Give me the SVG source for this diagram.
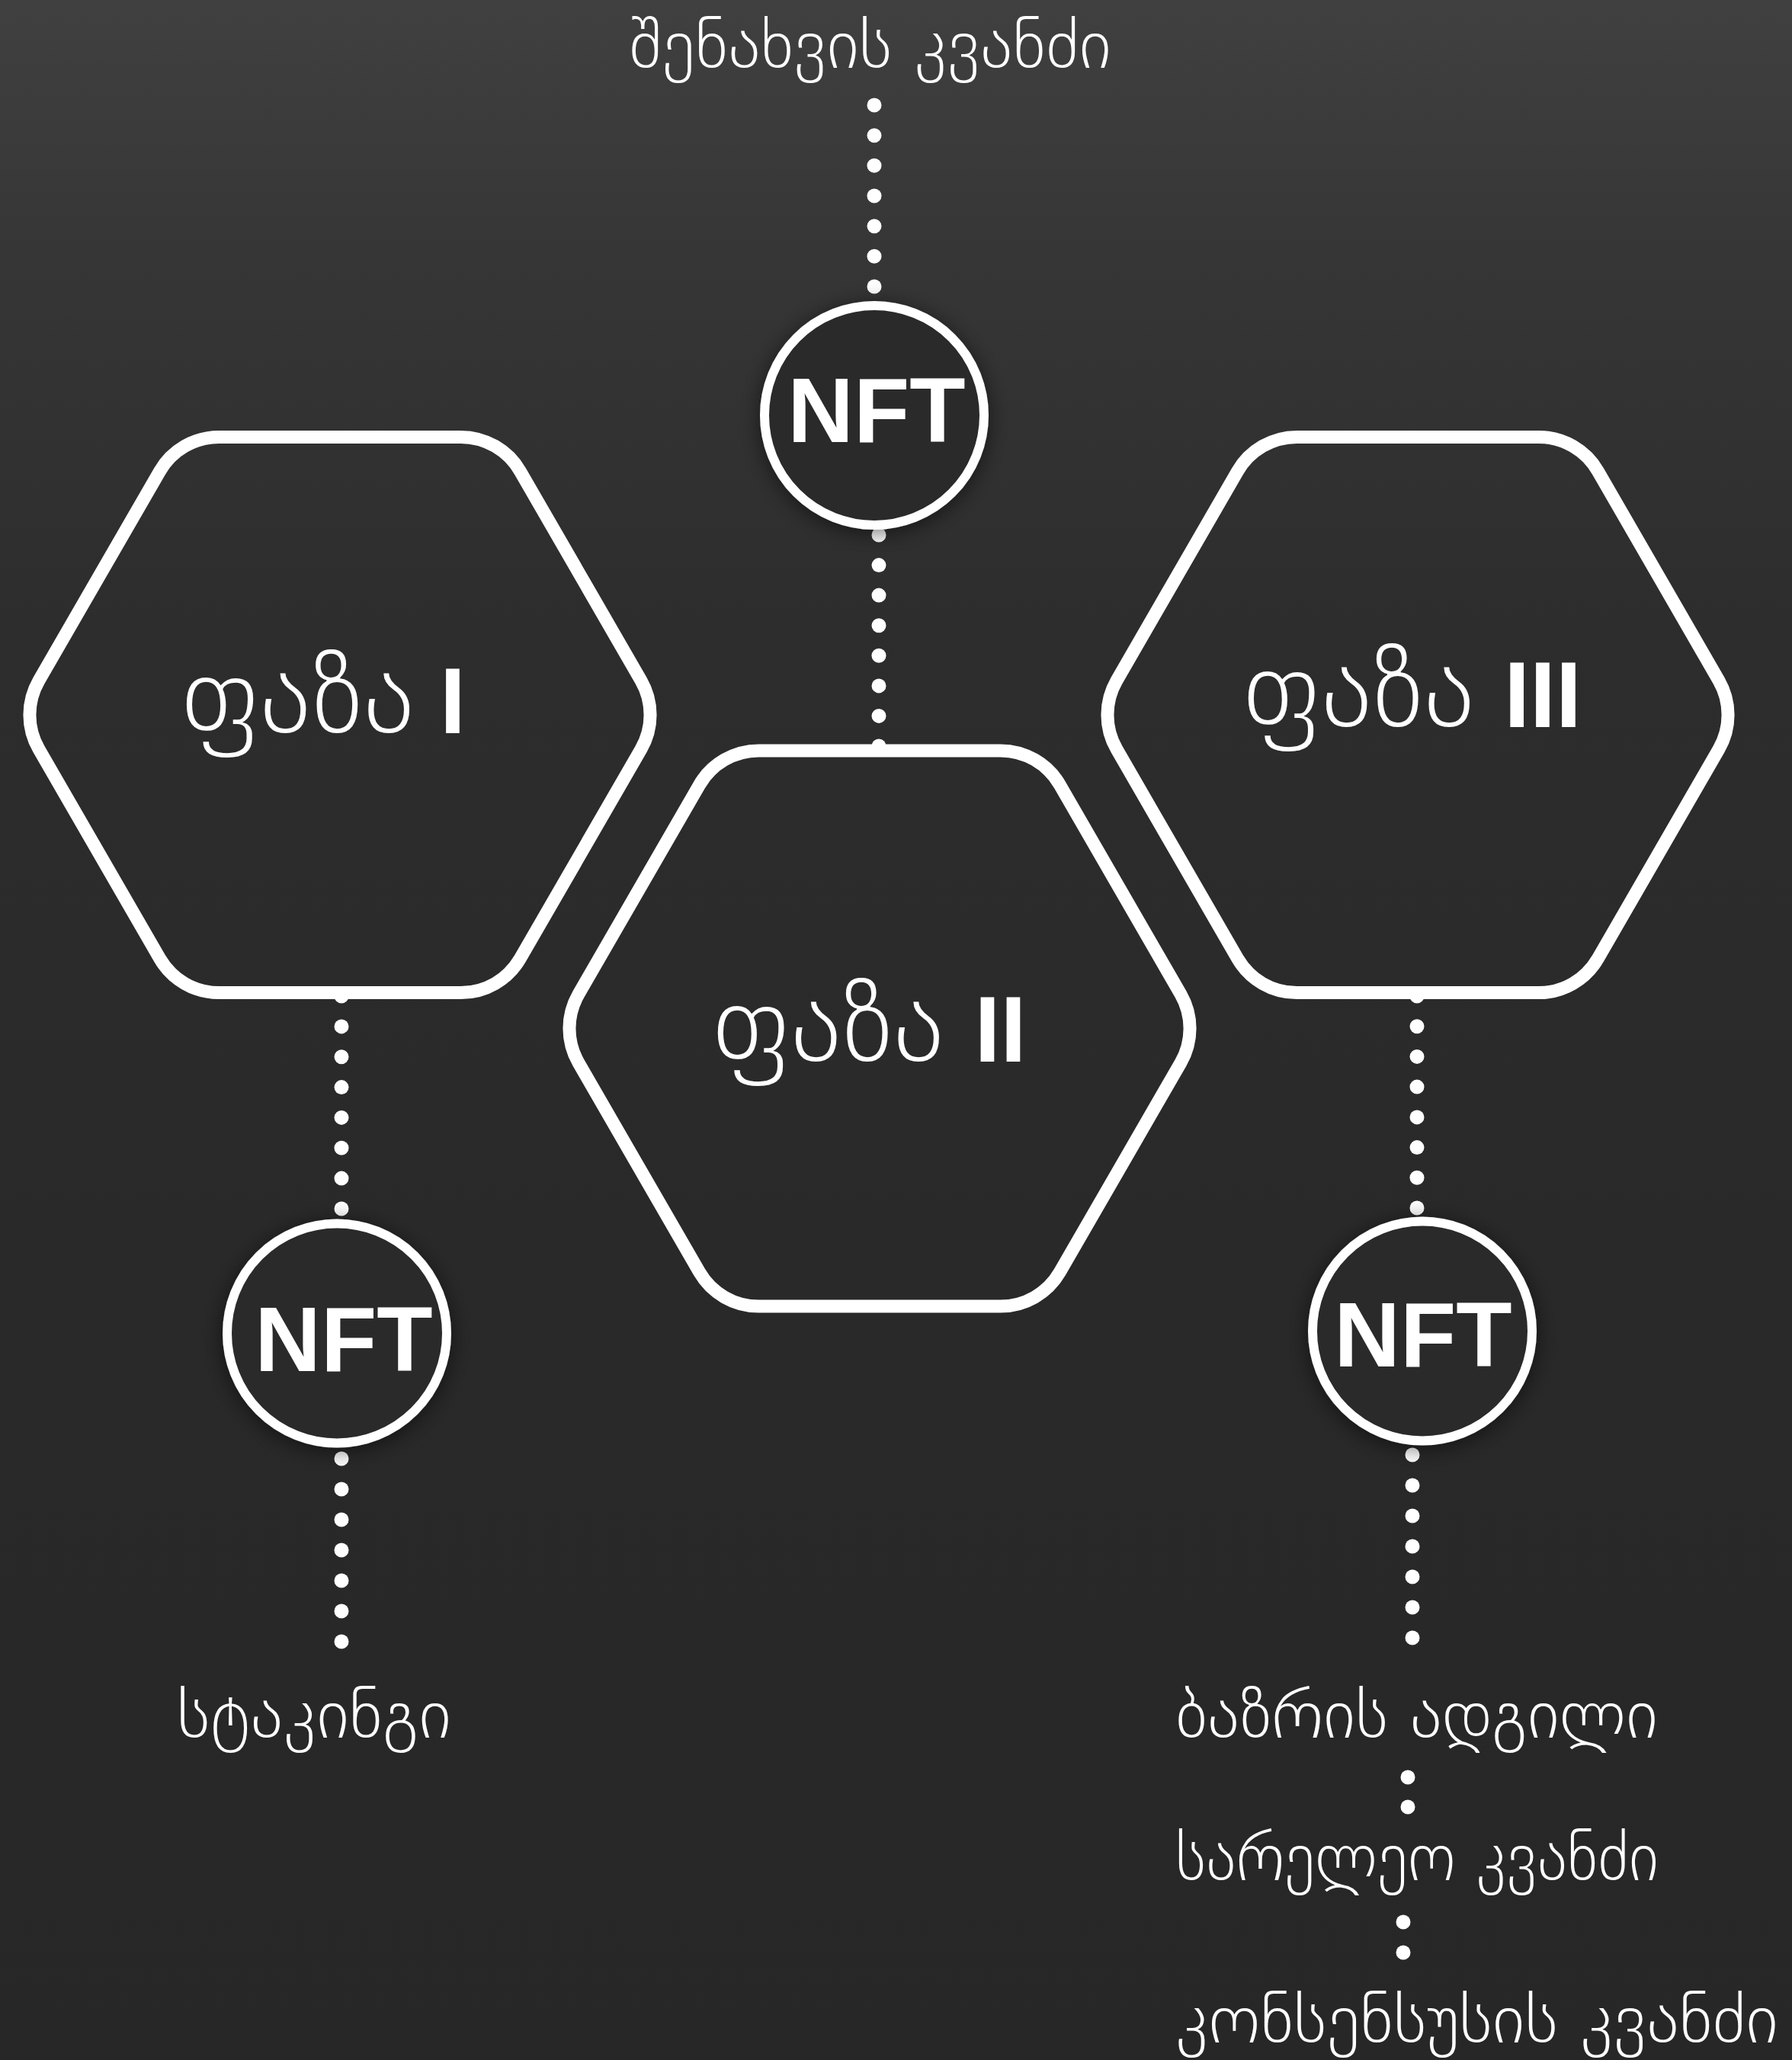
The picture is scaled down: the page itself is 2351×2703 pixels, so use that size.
<svg xmlns="http://www.w3.org/2000/svg" xmlns:xlink="http://www.w3.org/1999/xlink" width="2351" height="2703" viewBox="0 0 2351 2703">
  <defs>
    <linearGradient id="bg" x1="0" y1="0" x2="0" y2="1">
      <stop offset="0" stop-color="#404040"/>
      <stop offset="0.12" stop-color="#363636"/>
      <stop offset="0.3" stop-color="#2d2d2d"/>
      <stop offset="0.6" stop-color="#292929"/>
      <stop offset="1" stop-color="#272727"/>
    </linearGradient>
    <filter id="shadow" x="-30%" y="-30%" width="160%" height="160%">
      <feDropShadow dx="0" dy="4" stdDeviation="14" flood-color="#000" flood-opacity="0.55"/>
    </filter>
    <path id="hexshape" d="M -158.5,-364.6 H 158.5 A 90 90 0 0 1 236.5,-319.6 L 395,-45 A 90 90 0 0 1 395,45 L 236.5,319.6 A 90 90 0 0 1 158.5,364.6 H -158.5 A 90 90 0 0 1 -236.5,319.6 L -395,45 A 90 90 0 0 1 -395,-45 L -236.5,-319.6 A 90 90 0 0 1 -158.5,-364.6 Z"/>
  </defs>
  <style>
    .hex { fill: none; stroke: #ffffff; stroke-width: 17; }
    .ring { fill: #2b2b2b; stroke: #ffffff; stroke-width: 12; filter: url(#shadow); }
    .dots circle { fill: #ffffff; }
    .geo { font-family: "DejaVu Sans", sans-serif; font-weight: 200; fill: #ffffff; }
    .phase { font-size: 142px; }
    .label { font-size: 88px; }
    .num { font-family: "Liberation Sans", Arial, sans-serif; font-weight: 700; fill: #ffffff; font-size: 122px; }
    .nft { font-family: "Liberation Sans", Arial, sans-serif; font-weight: 700; fill: #ffffff; font-size: 120px; text-anchor: middle; }
  </style>

  <rect x="0" y="0" width="2351" height="2703" fill="url(#bg)"/>

  <g id="connectors">
    <g class="dots" id="conn-storage-nft">
      <circle cx="1147" cy="138" r="9.5"/><circle cx="1147" cy="177.7" r="9.5"/><circle cx="1147" cy="217.3" r="9.5"/><circle cx="1147" cy="257" r="9.5"/><circle cx="1147" cy="296.7" r="9.5"/><circle cx="1147" cy="336.3" r="9.5"/><circle cx="1147" cy="376" r="9.5"/>
    </g>
    <g class="dots" id="conn-nft-phase2">
      <circle cx="1153" cy="702" r="9.5"/><circle cx="1153" cy="741.6" r="9.5"/><circle cx="1153" cy="781.1" r="9.5"/><circle cx="1153" cy="820.7" r="9.5"/><circle cx="1153" cy="860.3" r="9.5"/><circle cx="1153" cy="899.9" r="9.5"/><circle cx="1153" cy="939.4" r="9.5"/><circle cx="1153" cy="979" r="9.5"/>
    </g>
    <g class="dots" id="conn-phase1-nft">
      <circle cx="448" cy="1307" r="9.5"/><circle cx="448" cy="1346.9" r="9.5"/><circle cx="448" cy="1386.7" r="9.5"/><circle cx="448" cy="1426.6" r="9.5"/><circle cx="448" cy="1466.4" r="9.5"/><circle cx="448" cy="1506.3" r="9.5"/><circle cx="448" cy="1546.1" r="9.5"/><circle cx="448" cy="1586" r="9.5"/>
    </g>
    <g class="dots" id="conn-nft-staking">
      <circle cx="448" cy="1914" r="9.5"/><circle cx="448" cy="1954" r="9.5"/><circle cx="448" cy="1994" r="9.5"/><circle cx="448" cy="2034" r="9.5"/><circle cx="448" cy="2074" r="9.5"/><circle cx="448" cy="2114" r="9.5"/><circle cx="448" cy="2154" r="9.5"/>
    </g>
    <g class="dots" id="conn-phase3-nft">
      <circle cx="1859" cy="1307" r="9.5"/><circle cx="1859" cy="1346.7" r="9.5"/><circle cx="1859" cy="1386.4" r="9.5"/><circle cx="1859" cy="1426.1" r="9.5"/><circle cx="1859" cy="1465.9" r="9.5"/><circle cx="1859" cy="1505.6" r="9.5"/><circle cx="1859" cy="1545.3" r="9.5"/><circle cx="1859" cy="1585" r="9.5"/>
    </g>
    <g class="dots" id="conn-nft-market">
      <circle cx="1853" cy="1909" r="9.5"/><circle cx="1853" cy="1949" r="9.5"/><circle cx="1853" cy="1989" r="9.5"/><circle cx="1853" cy="2029" r="9.5"/><circle cx="1853" cy="2069" r="9.5"/><circle cx="1853" cy="2109" r="9.5"/><circle cx="1853" cy="2149" r="9.5"/>
    </g>
    <g class="dots" id="conn-market-relay">
      <circle cx="1847" cy="2332" r="9.5"/><circle cx="1847" cy="2371" r="9.5"/>
    </g>
    <g class="dots" id="conn-relay-consensus">
      <circle cx="1841" cy="2522" r="9.5"/><circle cx="1841" cy="2562" r="9.5"/>
    </g>
  </g>

  <g id="label-storage">
    <text class="geo label" x="825" y="89" textLength="633" lengthAdjust="spacingAndGlyphs">შენახვის კვანძი</text>
  </g>

  <g id="nft-top">
    <circle class="ring" cx="1147" cy="545" r="144"/>
    <text class="nft" x="1150" y="580">NFT</text>
  </g>

  <g id="phase-1">
    <use xlink:href="#hexshape" href="#hexshape" class="hex" x="446" y="938"/>
    <text class="geo phase" x="235" y="962" textLength="309" lengthAdjust="spacingAndGlyphs">ფაზა</text>
    <text class="num" x="594" y="962" text-anchor="middle">I</text>
  </g>

  <g id="phase-2">
    <use xlink:href="#hexshape" href="#hexshape" class="hex" x="1154" y="1349.5"/>
    <text class="geo phase" x="932" y="1393" textLength="307" lengthAdjust="spacingAndGlyphs">ფაზა</text>
    <text class="num" x="1312.5" y="1393" text-anchor="middle">II</text>
  </g>

  <g id="phase-3">
    <use xlink:href="#hexshape" href="#hexshape" class="hex" x="1860" y="938"/>
    <text class="geo phase" x="1628" y="954" textLength="307" lengthAdjust="spacingAndGlyphs">ფაზა</text>
    <text class="num" x="2024" y="954" text-anchor="middle">III</text>
  </g>

  <g id="nft-left">
    <circle class="ring" cx="442" cy="1749.5" r="144"/>
    <text class="nft" x="451" y="1799">NFT</text>
  </g>

  <g id="nft-right">
    <circle class="ring" cx="1866" cy="1746.5" r="144"/>
    <text class="nft" x="1867" y="1793">NFT</text>
  </g>

  <g id="label-staking">
    <text class="geo label" x="232" y="2280" textLength="360" lengthAdjust="spacingAndGlyphs">სტაკინგი</text>
  </g>

  <g id="label-marketplace">
    <text class="geo label" x="1542" y="2280" textLength="633" lengthAdjust="spacingAndGlyphs">ბაზრის ადგილი</text>
  </g>

  <g id="label-relay">
    <text class="geo label" x="1542" y="2467" textLength="634" lengthAdjust="spacingAndGlyphs">სარელეო კვანძი</text>
  </g>

  <g id="label-consensus">
    <text class="geo label" x="1542" y="2680" textLength="791" lengthAdjust="spacingAndGlyphs">კონსენსუსის კვანძი</text>
  </g>
</svg>
